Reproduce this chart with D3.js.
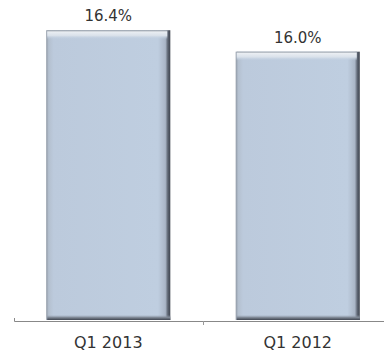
<!DOCTYPE html>
<html><head><meta charset="utf-8">
<script src="https://cdn.jsdelivr.net/npm/d3@7"></script>
<style>html,body{margin:0;padding:0;background:#fff;}svg{display:block;}</style>
</head><body>
<script>
const categories = ["Q1 2013", "Q1 2012"];
const values = [16.4, 16.0];
const valueLabels = ["16.4%", "16.0%"];
const yDomain = [11, 17];

const W = 384, H = 358;
const FONT = "'DejaVu Sans', Verdana, sans-serif";
const svg = d3.select("body").append("svg").attr("width", W).attr("height", H);
const defs = svg.append("defs");

const x = d3.scaleBand().domain(categories).range([14, 392]).paddingInner(0.345).paddingOuter(0.17);
const y = d3.scaleLinear().domain(yDomain).range([320, -2]);

const gh = defs.append("linearGradient").attr("id", "gh").attr("x1", 0).attr("x2", 1).attr("y1", 0).attr("y2", 0);
[[0, "#8f98a4"], [0.02, "#b4c0cf"], [0.06, "#bccadc"], [0.9, "#bfcee0"], [0.96, "#aab6c7"], [0.98, "#5d6572"], [1, "#3f4550"]]
  .forEach(([o, c]) => gh.append("stop").attr("offset", o).attr("stop-color", c));
const gt = defs.append("linearGradient").attr("id", "gt").attr("x1", 0).attr("x2", 0).attr("y1", 0).attr("y2", 1);
[[0, "#8e96a0"], [0.2, "#e9edf2"], [0.6, "#d9e1ea"], [1, "rgba(191,206,224,0)"]]
  .forEach(([o, c]) => gt.append("stop").attr("offset", o).attr("stop-color", c));
const gb = defs.append("linearGradient").attr("id", "gb").attr("x1", 0).attr("x2", 0).attr("y1", 0).attr("y2", 1);
[[0, "rgba(150,160,175,0)"], [0.5, "#7e8794"], [1, "#3f4550"]]
  .forEach(([o, c]) => gb.append("stop").attr("offset", o).attr("stop-color", c));

const bars = svg.append("g").selectAll("g").data(categories).join("g");
bars.append("rect")
  .attr("x", d => x(d)).attr("width", x.bandwidth())
  .attr("y", (d, i) => y(values[i])).attr("height", (d, i) => y(yDomain[0]) - y(values[i]))
  .attr("fill", "url(#gh)");
bars.append("rect")
  .attr("x", d => x(d) + 1).attr("width", x.bandwidth() - 4)
  .attr("y", (d, i) => y(values[i])).attr("height", 9)
  .attr("fill", "url(#gt)");
bars.append("rect")
  .attr("x", d => x(d) + 1).attr("width", x.bandwidth() - 1)
  .attr("y", (d, i) => y(yDomain[0]) - 5).attr("height", 5)
  .attr("fill", "url(#gb)");

svg.append("g").selectAll("text").data(categories).join("text")
  .attr("x", d => x(d) + x.bandwidth() / 2)
  .attr("y", (d, i) => y(values[i]) - 9)
  .attr("text-anchor", "middle")
  .attr("font-family", FONT)
  .attr("font-size", 15).attr("fill", "#333")
  .text((d, i) => valueLabels[i]);

const axis = svg.append("g").attr("transform", `translate(0,${y(yDomain[0]) + 1})`)
  .call(d3.axisBottom(x).tickSize(0).tickPadding(16));
axis.select(".domain").attr("stroke", "#888").attr("d", "M14.5,-3V0.5H392");
axis.selectAll(".tick text").attr("font-family", FONT)
  .attr("font-size", 16).attr("fill", "#333");
const boundary = Math.round(x.range()[0] + x.step()) + 0.5;
svg.append("line")
  .attr("x1", boundary).attr("x2", boundary)
  .attr("y1", y(yDomain[0]) + 1).attr("y2", y(yDomain[0]) + 5)
  .attr("stroke", "#999");
</script>
</body></html>
